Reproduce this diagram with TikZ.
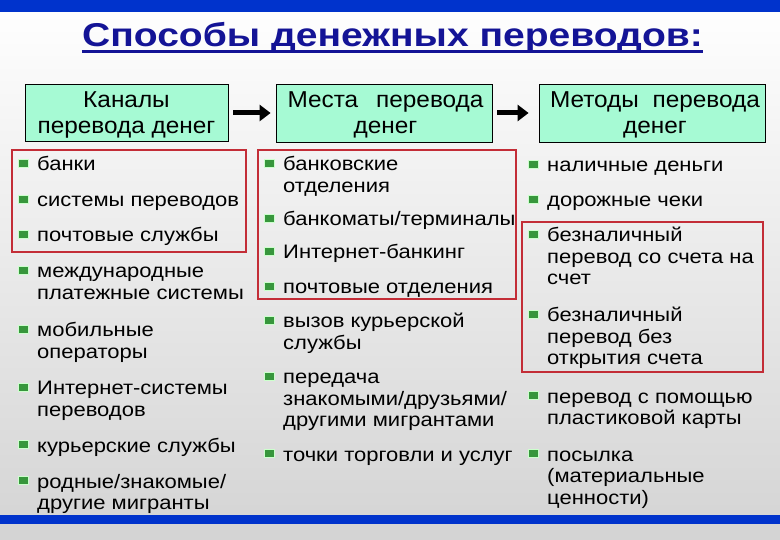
\documentclass[tikz,border=0pt]{standalone}
\usepackage{fontspec}
\setmainfont{Liberation Sans}[FakeStretch=1.128]
\newfontfamily\hdrfont{Liberation Sans}[FakeStretch=1.06]
\newfontfamily\titlefont{Liberation Sans}[FakeStretch=1.183]
\usetikzlibrary{arrows.meta}
\definecolor{barblue}{RGB}{0,51,204}
\definecolor{titleblue}{RGB}{20,20,150}
\definecolor{mint}{RGB}{166,250,212}
\definecolor{boxred}{RGB}{195,45,55}
\definecolor{bulgreen}{RGB}{55,150,60}
\newcommand\bitem[4]{%
  \node[itm] (#1) at (#2,#3) {\begin{tabular}[t]{@{}l@{}}#4\end{tabular}};
  \node[bul] (#1b) at ([xshift=-13.5pt,yshift=8pt]#1.base west) {};}
\begin{document}
\begin{tikzpicture}[x=1pt,y=-1pt,
  itm/.style={anchor=base west, inner sep=0pt, font=\fontsize{19.5}{21.5}\selectfont},
  bul/.style={rectangle, minimum width=10pt, minimum height=8pt, inner sep=0pt,
    fill=bulgreen, draw=green!20!white, line width=0.7pt},
  hdrbox/.style={rectangle, draw=black, line width=0.8pt, fill=mint, inner sep=0pt},
  hdrtxt/.style={anchor=base, inner sep=0pt, font=\hdrfont\fontsize{23}{26}\selectfont},
  redbox/.style={draw=boxred, line width=1.6pt},
  bar/.style={fill=barblue},
  flow/.style={line width=5pt, -{Triangle[length=11pt,width=16pt]}}]
\useasboundingbox (0,0) rectangle (780,540);
\shade[top color=white, bottom color=gray!34] (0,0) rectangle (780,540);
\fill[bar] (0,0) rectangle (780,12);
\fill[bar] (0,515) rectangle (780,524);
% title
\node[anchor=base, inner sep=0pt, text=titleblue, font=\titlefont\fontsize{33}{36}\selectfont\bfseries] (title) at (392.5,46.5) {Способы денежных переводов:};
\draw[titleblue, line width=3pt] ([yshift=-5pt]title.base west) -- ([yshift=-5pt]title.base east);
% headers
\node[hdrbox, minimum width=203pt, minimum height=57pt] (h1) at (126.5,113) {};
\node[hdrbox, minimum width=216pt, minimum height=58pt] (h2) at (384,113) {};
\node[hdrbox, minimum width=226pt, minimum height=58pt] (h3) at (652,113) {};
\node[hdrtxt] (h1t) at (126.5,107.5) {\begin{tabular}[t]{@{}c@{}}Каналы\\перевода денег\end{tabular}};
\node[hdrtxt] (h2t) at (385.5,107.5) {\begin{tabular}[t]{@{}c@{}}\makebox[196pt]{Места\hfill перевода}\\денег\end{tabular}};
\node[hdrtxt] (h3t) at (655,107.5) {\begin{tabular}[t]{@{}c@{}}\makebox[210pt]{Методы\hfill перевода}\\денег\end{tabular}};
\draw[flow, shorten <=5pt, shorten >=5pt] (h1) -- (h2);
\draw[flow, shorten <=5pt, shorten >=10pt] (h2) -- (h3);
% red frames
\draw[redbox] (12,150) rectangle (246,252);
\draw[redbox] (258,150) rectangle (516,299);
\draw[redbox] (522,222) rectangle (763,372);
% left column
\bitem{l1}{37}{171}{банки}
\bitem{l2}{37}{207}{системы переводов}
\bitem{l3}{37}{242}{почтовые службы}
\bitem{l4}{37}{278}{международные\\платежные системы}
\bitem{l5}{37}{337}{мобильные\\операторы}
\bitem{l6}{37}{395}{Интернет-системы\\переводов}
\bitem{l7}{37}{452}{курьерские службы}
\bitem{l8}{37}{488}{родные/знакомые/\\другие мигранты}
% middle column
\bitem{m1}{283}{171}{банковские\\отделения}
\bitem{m2}{283}{226}{банкоматы/терминалы}
\bitem{m3}{283}{259}{Интернет-банкинг}
\bitem{m4}{283}{294}{почтовые отделения}
\bitem{m5}{283}{328}{вызов курьерской\\службы}
\bitem{m6}{283}{384}{передача\\знакомыми/друзьями/\\другими мигрантами}
\bitem{m7}{283}{461}{точки торговли и услуг}
% right column
\bitem{r1}{547}{172}{наличные деньги}
\bitem{r2}{547}{207}{дорожные чеки}
\bitem{r3}{547}{242}{безналичный\\перевод со счета на\\счет}
\bitem{r4}{547}{322}{безналичный\\перевод без\\открытия счета}
\bitem{r5}{547}{403}{перевод с помощью\\пластиковой карты}
\bitem{r6}{547}{461}{посылка\\(материальные\\ценности)}
\end{tikzpicture}
\end{document}
